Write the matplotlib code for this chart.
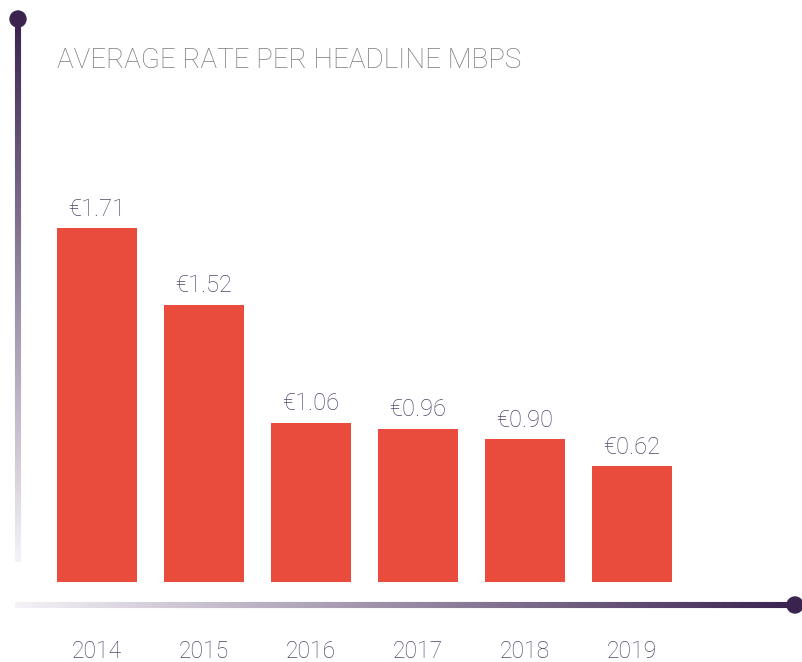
import numpy as np
import matplotlib
matplotlib.use("Agg")
import matplotlib.pyplot as plt
from matplotlib.collections import LineCollection
from matplotlib.colors import LinearSegmentedColormap

# Data
years = ["2014", "2015", "2016", "2017", "2018", "2019"]
rates = [1.71, 1.52, 1.06, 0.96, 0.90, 0.62]
# drawn bar heights (the original bars are not to scale with the labels)
bar_heights = [1.71, 1.34, 0.77, 0.74, 0.69, 0.56]

W, H = 803, 662
fig = plt.figure(figsize=(W / 100, H / 100), dpi=100)

# overlay in pixel coordinates for the decorative axis lines
deco = fig.add_axes([0, 0, 1, 1])
deco.set_xlim(0, W)
deco.set_ylim(H, 0)
deco.axis("off")

dark = "#3b2350"
light = "#f4f2f6"
cmap = LinearSegmentedColormap.from_list("axisline", [light, dark])


def gradient_line(x0, y0, x1, y1, reverse=False):
    n = 200
    xs = np.linspace(x0, x1, n)
    ys = np.linspace(y0, y1, n)
    pts = np.column_stack([xs, ys]).reshape(-1, 1, 2)
    segs = np.concatenate([pts[:-1], pts[1:]], axis=1)
    t = np.linspace(0, 1, n - 1)
    if reverse:
        t = t[::-1]
    lc = LineCollection(segs, colors=cmap(t), linewidths=4.4, capstyle="butt")
    deco.add_collection(lc)


gradient_line(18, 22, 18, 562, reverse=True)
gradient_line(15, 605, 792, 605)
deco.add_patch(plt.Circle((18, 19), 8, color=dark))
deco.add_patch(plt.Circle((795, 605), 8, color=dark))

deco.text(57, 60, "AVERAGE RATE PER HEADLINE MBPS", fontsize=20, color="#7a7a7a",
          family="Roboto", fontweight="light", ha="left", va="center")

# bar axes, scaled so bars sit at the reference pixel positions
ax = fig.add_axes([0, 0, 1, 1])
ax.patch.set_alpha(0)
px_per_unit = 354 / 1.71
ax.set_xlim(-97 / 107, (W - 97) / 107)
ax.set_ylim(-(H - 582) / px_per_unit, 582 / px_per_unit)
ax.axis("off")

x = np.arange(len(years))
ax.bar(x, bar_heights, width=80 / 107, color="#e94b3c")

for i, (h, r) in enumerate(zip(bar_heights, rates)):
    ax.text(i, h + 19 / px_per_unit, f"€{r:.2f}", ha="center", va="center",
            fontsize=17, color="#524468", family="Roboto", fontweight="light")
    ax.text(i, -70 / px_per_unit, years[i], ha="center", va="center",
            fontsize=16.5, color="#524468", family="Roboto", fontweight="light")

fig.savefig("out.png", dpi=100)
